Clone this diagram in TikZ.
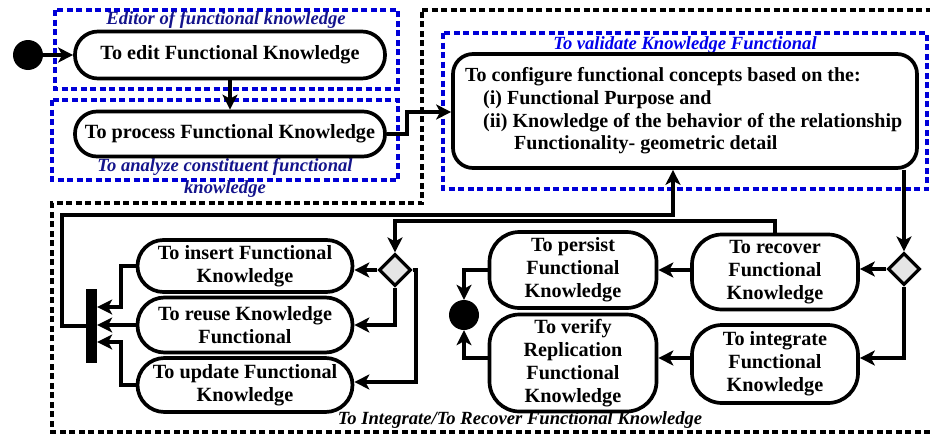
\documentclass[tikz,border=0pt]{standalone}
\usepackage{fontspec}
\setmainfont{Liberation Serif}
\usetikzlibrary{arrows.meta,shapes.geometric,calc}
\definecolor{navylab}{RGB}{20,20,140}
\definecolor{bluelab}{RGB}{0,0,235}
\definecolor{bluedash}{RGB}{0,0,215}
\begin{document}
\begin{tikzpicture}[x=1pt,y=-1pt,
  act/.style={draw,line width=3.7pt,rounded corners=#1,align=center,inner sep=0pt,
    font=\fontsize{20.2}{23}\selectfont\bfseries},
  dot/.style={circle,fill=black,minimum size=30pt,inner sep=0pt},
  dec/.style={diamond,draw,line width=3.2pt,fill=black!10,minimum width=32pt,minimum height=32pt,inner sep=0pt},
  bar/.style={rectangle,fill=black,minimum width=11pt,minimum height=74pt,inner sep=0pt},
  arr/.style={line width=4pt,-{Stealth[length=15pt,width=15pt,inset=4pt]}},
  bluebox/.style={draw=bluedash,line width=3.3pt,dash pattern=on 6pt off 3.5pt},
  blackbox/.style={draw=black,line width=3.3pt,dash pattern=on 6pt off 3.5pt},
  grp/.style={font=\fontsize{18.6}{22}\selectfont\bfseries\itshape,inner sep=0pt,align=center}
]
\useasboundingbox (0,0) rectangle (930,434);

% group frames
\draw[blackbox] (422,10) -- (940,10) -- (940,432) -- (52,432) -- (52,203) -- (422,203) -- cycle;
\draw[bluebox] (55,10) rectangle (398,89);
\draw[bluebox] (52,100) rectangle (398,180);
\draw[bluebox] (443,33) rectangle (927,189);

\node[grp,text=navylab] (lab1) at (226,20) {Editor of functional knowledge};
\node[grp,text=navylab] (lab2) at (225,178) {To analyze constituent functional\\knowledge};
\node[grp,text=bluelab] (lab3) at (685,45) {To validate Knowledge Functional};
\node[grp,text=black] (lab4) at (520,420) {To Integrate/To Recover Functional Knowledge};

% nodes
\node[dot] (start) at (28,55) {};
\node[act=23pt,minimum width=310pt,minimum height=47pt] (edit) at (230,55) {To edit Functional Knowledge};
\node[act=22pt,minimum width=310pt,minimum height=45pt] (proc) at (230,134) {To process Functional Knowledge};
\node[act=20pt,minimum width=464pt,minimum height=114pt] (cfg) at (685,111) {};
\node[anchor=west,align=left,inner sep=0pt,font=\fontsize{20}{22.7}\selectfont\bfseries] (cfgtxt) at (465,111)
  {To configure functional concepts based on the:\\
   \hspace*{18pt}(i) Functional Purpose and\\
   \hspace*{18pt}(ii) Knowledge of the behavior of the relationship\\
   \hspace*{49pt}Functionality- geometric detail};

\node[act=26pt,minimum width=215pt,minimum height=52pt] (ins) at (245,266) {To insert Functional\\Knowledge};
\node[act=27pt,minimum width=215pt,minimum height=55pt] (reuse) at (245,325) {To reuse Knowledge\\Functional};
\node[act=27pt,minimum width=215pt,minimum height=54pt] (upd) at (245,385) {To update Functional\\Knowledge};
\node[bar] (bar) at (91.5,326) {};
\node[dec] (dL) at (395,270) {};

\node[act=30pt,minimum width=167pt,minimum height=76pt] (pers) at (573,270) {To persist\\Functional\\Knowledge};
\node[act=30pt,minimum width=167pt,minimum height=97pt] (ver) at (573,363) {To verify\\Replication\\Functional\\Knowledge};
\node[act=30pt,minimum width=166pt,minimum height=75pt] (rec) at (775,272) {To recover\\Functional\\Knowledge};
\node[act=30pt,minimum width=166pt,minimum height=78pt] (integ) at (775,364) {To integrate\\Functional\\Knowledge};
\node[dec] (dR) at (904,269) {};
\node[dot] (end) at (464,315) {};

% connectors
\draw[arr] (start) -- (edit);
\draw[arr] (edit) -- (proc);
\draw[arr] (proc.east) -- ++(20,0) |- ([yshift=-1pt]cfg.west);
\draw[arr] (dR.north |- cfg.south) -- (dR.north);
\draw[arr] (dR.west) -- (dR.west -| rec.east);
\draw[arr] (dR.south) |- ([yshift=6pt]integ.east);
\draw[arr] (rec.west |- pers.east) -- (pers.east);
\draw[arr] ([yshift=6pt]integ.west) -- ([yshift=6pt]integ.west -| ver.east);
\draw[arr] (pers.west) -| (end.north);
\draw[arr] ([yshift=5pt]ver.west) -| (end.south);
\draw[arr] (rec.north) -- ++(0,-12) -| (dL.north);
\draw[arr] (bar.west) -- ++(-24,0) |- ($(cfg.south)+(-12,45)$) -- ([xshift=-12pt]cfg.south);
\draw[arr] (dL.west) -- (dL.west -| ins.east);
\draw[arr] (dL.south) |- (reuse.east);
\draw[arr] (dL.east) -- ++(3,0) |- ([yshift=3pt]upd.east);
\draw[arr] (ins.west) -- ++(-15,0) |- ([yshift=19pt]bar.east);
\draw[arr] (reuse.west) -- (reuse.west -| bar.east);
\draw[arr] (upd.west) -- ++(-15,0) |- ([yshift=-16pt]bar.east);
\end{tikzpicture}
\end{document}
